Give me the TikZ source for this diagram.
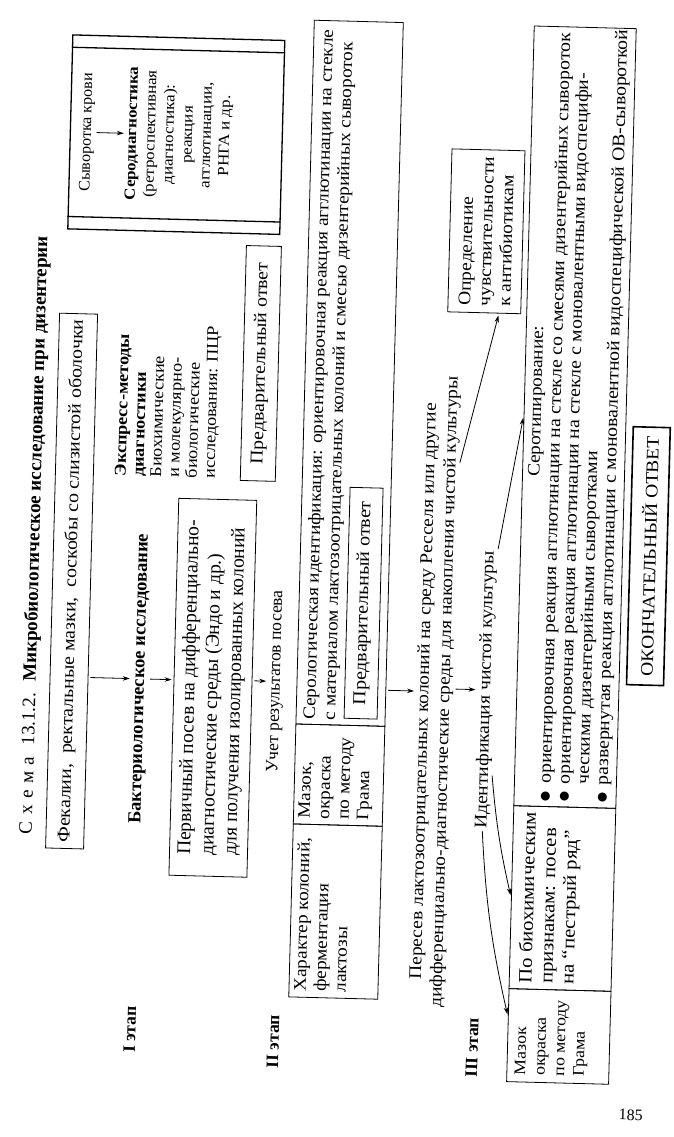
\documentclass[tikz,border=0pt]{standalone}
\usepackage{fontspec}
\setmainfont{Liberation Serif}[FakeStretch=1.1]
\newfontfamily\plainf{Liberation Serif}
\usetikzlibrary{arrows.meta,calc}
\tikzset{
  base/.style={inner sep=0pt, font=\fontsize{17.5}{20}\selectfont},
  rt/.style={base, rotate=90},
  box/.style={rt, draw, line width=0.8pt, inner xsep=6pt, inner ysep=4pt},
  cellbox/.style={rotate=90, draw, line width=0.8pt, inner sep=0pt},
  celltext/.style={rt, anchor=north west, align=left, inner xsep=6pt, inner ysep=5pt},
  lab/.style={rt, font=\plainf\bfseries\fontsize{17.5}{20}\selectfont},
  arr/.style={-{Stealth[length=7pt,width=4.5pt]}, line width=0.8pt, shorten <=2pt, shorten >=2pt},
}
\newcommand{\bul}{\raisebox{-0.05em}{\scalebox{1.35}{$\bullet$}}}
\begin{document}
\begin{tikzpicture}[x=1pt,y=-1pt]
\useasboundingbox (0,0) rectangle (674,1137);
\fill[white] (0,0) rectangle (674,1137);
\begin{scope}[rotate around={-1.5:(337,568)}, transform shape]

% Title
\node[rt, font=\plainf\fontsize{19}{22}\selectfont] (title) at (34,543)
  {С\hspace{0.35em}х\hspace{0.35em}е\hspace{0.35em}м\hspace{0.35em}а\hspace{0.6em}13.1.2.\hspace{0.6em}\textbf{Микробиологическое исследование при дизентерии}};

% Stage I
\node[box, minimum width=533pt, minimum height=38pt, font=\fontsize{18}{21}\selectfont] (fek) at (72,588)
  {Фекалии,\ \ ректальные мазки,\ \ соскобы со слизистой оболочки};
\node[lab, font=\plainf\bfseries\fontsize{18.5}{20}\selectfont] (bakt) at (143,684) {Бактериологическое исследование};
\node[box, minimum width=377pt, minimum height=78pt, align=left, font=\plainf\fontsize{19.5}{23}\selectfont] (perv) at (216,691)
  {Первичный посев на дифференциально-\\диагностические среды (Эндо и др.)\\для получения изолированных колоний};
\node[rt, font=\plainf\fontsize{17.5}{20}\selectfont] (uchet) at (279,683) {Учет результатов посева};
\node[rt, anchor=west, align=left, font=\fontsize{16.5}{17.8}\selectfont] (expr) at (164,482)
  {\textbf{Экспресс-методы}\\\textbf{диагностики}\\Биохимические\\и молекулярно-\\биологические\\исследования: ПЦР};
\node[box, minimum width=235pt, minimum height=35pt, font=\fontsize{18}{20}\selectfont] (pred1) at (255.5,365.5) {Предварительный ответ};

% Serum box
\node[cellbox, line width=1.3pt, minimum width=194pt, minimum height=212pt] (serum) at (165,139) {};
\draw[line width=1.3pt] ($(serum.north west)!13pt!(serum.north east)$) -- ($(serum.south west)!13pt!(serum.south east)$);
\draw[line width=1.3pt] ($(serum.north east)!13pt!(serum.north west)$) -- ($(serum.south east)!13pt!(serum.south west)$);
\node[rt, font=\plainf\fontsize{16}{18}\selectfont] (sv) at (76,139) {Сыворотка крови};
\node[rt, align=center, font=\fontsize{15.4}{18.6}\selectfont] (sero) at (168,139)
  {\textbf{Серодиагностика}\\(ретроспективная\\диагностика):\\реакция\\агглютинации,\\РНГА и др.};
\draw[arr] (sv.south) -- (sero.north);

% Stage II
\node[cellbox, minimum width=173pt, minimum height=89pt] (har) at (344.5,911.5) {};
\node[cellbox, minimum width=100pt, minimum height=89pt] (maz2) at (344.5,775) {};
\node[cellbox, minimum width=704pt, minimum height=89pt] (serol) at (344.5,373) {};
\node[celltext, font=\fontsize{17.5}{20}\selectfont] (harT) at (har.north west) {Характер колоний,\\ферментация\\лактозы};
\node[celltext, font=\fontsize{17.5}{19.5}\selectfont] (maz2T) at (maz2.north west) {Мазок,\\окраска\\по методу\\Грама};
\node[celltext, inner ysep=7pt, inner xsep=5pt, font=\fontsize{17.5}{20}\selectfont] (serolT) at (serol.north west)
  {Серологическая идентификация: ориентировочная реакция агглютинации на стекле\\с материалом лактозоотрицательных колоний и смесью дизентерийных сывороток};
\node[box, minimum width=231pt, minimum height=33pt, font=\fontsize{18.2}{20}\selectfont] (pred2) at (364.5,602.5) {Предварительный ответ};

\node[rt, align=center, font=\fontsize{17.7}{21}\selectfont] (peresev) at (438,689)
  {Пересев лактозоотрицательных колоний на среду Ресселя или другие\\дифференциально-диагностические среды для накопления чистой культуры};
\node[rt, font=\fontsize{17.8}{20}\selectfont] (ident) at (489,686) {Идентификация чистой культуры};
\node[box, minimum width=163pt, minimum height=73pt, align=left, font=\fontsize{17.7}{20}\selectfont] (opr) at (477.5,227.5)
  {Определение\\чувствительности\\к антибиотикам};

% Stage III
\node[cellbox, minimum width=93pt, minimum height=102pt] (maz3) at (571,1030.5) {};
\node[cellbox, minimum width=183pt, minimum height=102pt] (bio) at (571,892.5) {};
\node[cellbox, minimum width=780pt, minimum height=102pt] (styp) at (571,411) {};
\node[celltext, inner ysep=8pt, inner xsep=7pt, font=\fontsize{16.2}{19.5}\selectfont] (maz3T) at (maz3.north west) {Мазок\\окраска\\по методу\\Грама};
\node[celltext, inner ysep=9pt, inner xsep=6pt, font=\fontsize{18.8}{21}\selectfont] (bioT) at (bio.north west) {По биохимическим\\признакам: посев\\на “пестрый ряд”};
\node[rt, font=\fontsize{17.5}{20}\selectfont] (stypH) at (533,396) {Серотипирование:};
\node[rt, anchor=west, font=\fontsize{17.9}{19}\selectfont] (stypL) at (581,797)
  {\begin{tabular}{@{}c@{\hspace{0.4em}}l@{}}
   \bul & ориентировочная реакция агглютинации на стекле со смесями дизентерийных сывороток\\
   \bul & ориентировочная реакция агглютинации на стекле с моновалентными видоспецифи-\\
        & ческими дизентерийными сыворотками\\
   \bul & развернутая реакция агглютинации с моновалентной видоспецифической ОВ-сывороткой
   \end{tabular}};
\node[box, line width=1.6pt, minimum width=258pt, minimum height=37pt, font=\fontsize{17.7}{20}\selectfont] (final) at (648,548) {ОКОНЧАТЕЛЬНЫЙ ОТВЕТ};

% Stage labels and page number
\node[lab] (st1) at (142,1035) {I этап};
\node[lab] (st2) at (285.5,1043) {II этап};
\node[lab] (st3) at (484.6,1044) {III этап};
\node[base, font=\plainf\fontsize{16}{18}\selectfont] (pg) at (645,1107) {185};

% Arrows
\draw[arr] (fek.south |- bakt.center) -- (bakt.north);
\draw[arr] (bakt.south) -- (perv.north |- bakt.south);
\draw[arr] (perv.south |- uchet.center) -- (uchet.north);
\draw[arr] (serol.south |- peresev.center) -- (peresev.north);
\draw[arr] (peresev.south |- ident.center) -- (ident.north);
\draw[arr] (ident.west) to[bend right=5] ($(maz3.north)!0.4!(maz3.north east)$);
\draw[arr] ($(ident.south west)!0.2!(ident.south east)$) to[bend right=4] (bio.north);
\draw[arr] (ident.south east) -- (styp.north);
\draw[arr] ($(peresev.south west)!0.86!(peresev.south east)$) -- ($(opr.west)!0.4!(opr.south west)$);
\end{scope}
\end{tikzpicture}
\end{document}
